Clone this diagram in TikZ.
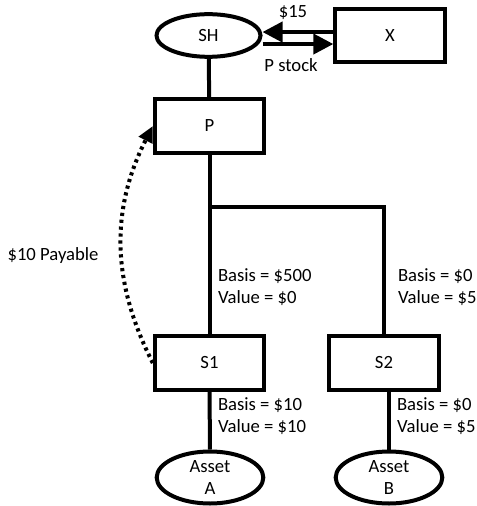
\documentclass[tikz,border=0pt]{standalone}
\usepackage{fontspec}
\setmainfont{Carlito}
\usetikzlibrary{arrows.meta,shapes.geometric}

\tikzset{every picture/.append style={line width=3pt}}
\tikzset{
  txt/.style={font=\fontsize{14}{16.5}\selectfont, inner sep=0pt},
  entity/.style={txt, draw, rectangle, minimum width=82pt, minimum height=40pt},
  owner/.style={txt, draw, ellipse, inner sep=0pt, minimum width=78pt, minimum height=32pt},
  asset/.style={txt, draw, ellipse, inner sep=0pt, minimum width=80pt, minimum height=39pt, align=center},
  info/.style={txt, align=left, anchor=west},
  flow/.style={-{Triangle[length=15pt,width=15pt]}},
  payable/.style={dash pattern=on 2.4pt off 2.8pt, -{Triangle[length=12pt,width=11pt]}}
}

\begin{document}
\begin{tikzpicture}[x=0.75pt,y=0.75pt,yscale=-1,xscale=1,line width=3pt]
\useasboundingbox (0,0) rectangle (476,506);

%Shape: Ellipse and boxes
\node [owner] (sh) at (208.5,35.5) {SH};
\node [entity] (x) at (390,35.5) {X};
\node [entity] (p) at (209.5,126) {P};
\node [entity] (s1) at (209.5,363) {S1};
\node [entity] (s2) at (384,363) {S2};
\node [asset] (assetA) at (210,477.5) {Asset\\A};
\node [asset] (assetB) at (389,477.5) {Asset\\B};

%Straight Lines
\coordinate (split) at (209.5,207);
\draw (sh) -- (p);
\draw (p) -- (s1);
\draw (split) -| (s2);
\draw (s1) -- (assetA);
\draw (assetB.north |- s2.south) -- (assetB);

%Arrows between SH and X
\draw [flow] ([yshift=-2.6pt]x.west) -- ([yshift=-2.6pt]x.west -| sh.east);
\draw [flow] ([yshift=6.4pt]sh.east) -- ([yshift=6.4pt]sh.east -| x.west);

%Curve Lines
\draw [payable] (s1.west) to [bend right=27] (p.west);

% Text Node
\node [txt] (cash) at (293,13) {\$15};
% Text Node
\node [txt] (stock) at (291,65) {P stock};
% Text Node
\node [txt] (loan) at (53,256) {\$10 Payable};
% Text Node
\node [info] (s1top) at (216,287) {Basis = \$500\\Value = \$0};
% Text Node
\node [info] (s2top) at (396,287) {Basis = \$0\\Value = \$5};
% Text Node
\node [info] (s1bot) at (216,416.5) {Basis = \$10\\Value = \$10};
% Text Node
\node [info] (s2bot) at (395,416.5) {Basis = \$0\\Value = \$5};

\end{tikzpicture}
\end{document}
